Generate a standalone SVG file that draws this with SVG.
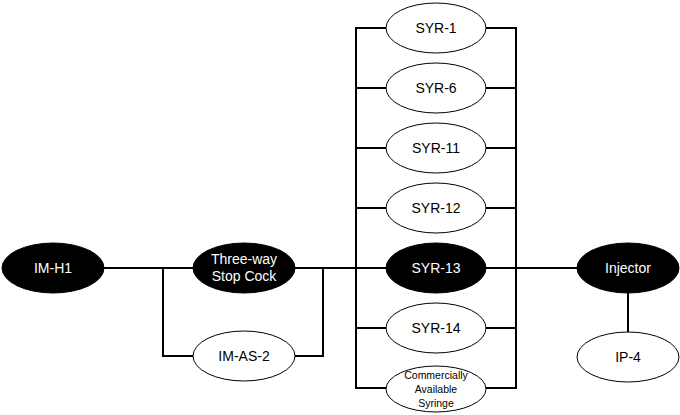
<svg xmlns="http://www.w3.org/2000/svg" width="680" height="415" viewBox="0 0 680 415">
<style>
.w{fill:#fff;stroke:#000;stroke-width:1}
.b{fill:#000;stroke:#000;stroke-width:1}
.t{font-family:"Liberation Sans",Arial,sans-serif;font-size:14px;text-anchor:middle;dominant-baseline:central}
.tw{fill:#fff}
.tb{fill:#000}
.s{font-size:10.5px}
.c{fill:none;stroke:#000;stroke-width:2}
</style>
<rect width="680" height="415" fill="#fff"/>
<g id="connectors">
<path class="c" d="M104 268H193M295 268H386M486 268H577"/>
<path class="c" d="M163 268V356H194M295 356H323V268"/>
<path class="c" d="M386 28H356V388H386M356 88H386M356 148H386M356 208H386M356 328H386"/>
<path class="c" d="M486 28H516V388H486M516 88H486M516 148H486M516 208H486M516 328H486"/>
<path class="c" d="M628 293V332"/>
</g>
<g id="IM-H1"><ellipse class="b" cx="53" cy="268" rx="51" ry="25"/><text class="t tw" x="53" y="268">IM-H1</text></g>
<g id="ThreeWay"><ellipse class="b" cx="244" cy="268" rx="51" ry="25"/><text class="t tw" x="244" y="259">Three-way</text><text class="t tw" x="244" y="276">Stop Cock</text></g>
<g id="IM-AS-2"><ellipse class="w" cx="244" cy="356" rx="51" ry="25"/><text class="t tb" x="244" y="356">IM-AS-2</text></g>
<g id="SYR-1"><ellipse class="w" cx="436" cy="28" rx="50" ry="25"/><text class="t tb" x="436" y="28">SYR-1</text></g>
<g id="SYR-6"><ellipse class="w" cx="436" cy="88" rx="50" ry="25"/><text class="t tb" x="436" y="88">SYR-6</text></g>
<g id="SYR-11"><ellipse class="w" cx="436" cy="148" rx="50" ry="25"/><text class="t tb" x="436" y="148">SYR-11</text></g>
<g id="SYR-12"><ellipse class="w" cx="436" cy="208" rx="50" ry="25"/><text class="t tb" x="436" y="208">SYR-12</text></g>
<g id="SYR-13"><ellipse class="b" cx="436" cy="268" rx="50" ry="25"/><text class="t tw" x="436" y="268">SYR-13</text></g>
<g id="SYR-14"><ellipse class="w" cx="436" cy="328" rx="50" ry="25"/><text class="t tb" x="436" y="328">SYR-14</text></g>
<g id="Commercial"><ellipse class="w" cx="436" cy="389" rx="50" ry="23"/><text class="t tb s" x="436" y="375">Commercially</text><text class="t tb s" x="436" y="389">Available</text><text class="t tb s" x="436" y="403">Syringe</text></g>
<g id="Injector"><ellipse class="b" cx="628" cy="268" rx="51" ry="25"/><text class="t tw" x="628" y="268">Injector</text></g>
<g id="IP-4"><ellipse class="w" cx="628" cy="357" rx="51" ry="25"/><text class="t tb" x="628" y="357">IP-4</text></g>
</svg>
